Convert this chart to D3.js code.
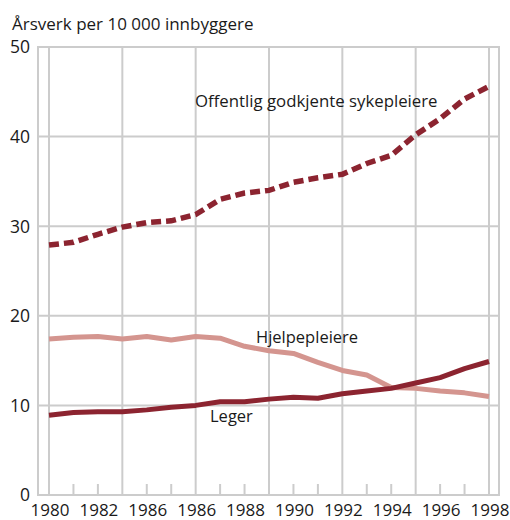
<!DOCTYPE html>
<html>
<head>
<meta charset="utf-8">
<script src="https://cdn.jsdelivr.net/npm/d3@7"></script>
<style>
    body { margin: 0; background: #fff; }
    text { font-family: "Open Sans", "Noto Sans", sans-serif; fill: #1a1a1a; }
</style>
</head>
<body>
<svg id="chart"></svg>
<script>
var width = 510,
    height = 520

// data
var years = [1980, 1981, 1982, 1983, 1984, 1985, 1986, 1987, 1988, 1989,
             1990, 1991, 1992, 1993, 1994, 1995, 1996, 1997, 1998]
var sykepleiere = [27.9, 28.2, 29.1, 29.9, 30.4, 30.6, 31.3, 33.0, 33.7, 34.0,
                   34.9, 35.4, 35.8, 37.0, 37.9, 40.2, 42.0, 44.2, 45.6]
var hjelpepleiere = [17.4, 17.6, 17.7, 17.4, 17.7, 17.3, 17.7, 17.5, 16.6, 16.1,
                     15.8, 14.8, 13.9, 13.4, 12.0, 11.9, 11.6, 11.4, 11.0]
var leger = [8.9, 9.2, 9.3, 9.3, 9.5, 9.8, 10.0, 10.4, 10.4, 10.7,
             10.9, 10.8, 11.3, 11.6, 11.9, 12.5, 13.1, 14.1, 14.9]
var yTicks = [0, 10, 20, 30, 40, 50]
var gridYears = [1980, 1983, 1986, 1989, 1992, 1995, 1998]
var labelYears = [1980, 1982, 1984, 1986, 1988, 1990, 1992, 1994, 1996, 1998]
// the source prints 1986 twice, kept as it is
var xLabels = ["1980", "1982", "1986", "1986", "1988", "1990", "1992", "1994", "1996", "1998"]

var darkRed = "#8c2430",
    pink = "#d4958f",
    grid = "#cccccc"

var svg = d3.select("svg#chart")
    .attr("width", width)
    .attr("height", height)

var x = d3.scaleLinear().domain([1980, 1998]).range([49, 489])
var y = d3.scaleLinear().domain([0, 50]).range([495, 47])

// grid
svg.append("g").selectAll("line")
    .data(yTicks)
    .enter().append("line")
    .attr("x1", 38).attr("x2", 499)
    .attr("y1", function(d){ return y(d) })
    .attr("y2", function(d){ return y(d) })
    .attr("stroke", grid).attr("stroke-width", 2)

svg.append("g").selectAll("line")
    .data(gridYears)
    .enter().append("line")
    .attr("x1", function(d){ return x(d) })
    .attr("x2", function(d){ return x(d) })
    .attr("y1", y(50)).attr("y2", y(0))
    .attr("stroke", grid).attr("stroke-width", 2)

// small ticks for the other years
svg.append("g").selectAll("line")
    .data(years.filter(function(d){ return gridYears.indexOf(d) < 0 }))
    .enter().append("line")
    .attr("x1", function(d){ return x(d) })
    .attr("x2", function(d){ return x(d) })
    .attr("y1", y(0) - 11).attr("y2", y(0))
    .attr("stroke", grid).attr("stroke-width", 2)

// frame
svg.append("rect")
    .attr("x", 38).attr("y", y(50))
    .attr("width", 499 - 38).attr("height", y(0) - y(50))
    .attr("fill", "none")
    .attr("stroke", grid).attr("stroke-width", 2)

// axis labels
svg.append("g").selectAll("text")
    .data(yTicks)
    .enter().append("text")
    .attr("x", 30)
    .attr("y", function(d){ return y(d) })
    .attr("dy", "0.36em")
    .attr("text-anchor", "end")
    .style("font-size", "17.5px")
    .text(function(d){ return d })

svg.append("g").selectAll("text")
    .data(labelYears)
    .enter().append("text")
    .attr("x", function(d){ return x(d) + 1 })
    .attr("y", 516)
    .attr("text-anchor", "middle")
    .style("font-size", "17px")
    .text(function(d, i){ return xLabels[i] })

svg.append("text")
    .attr("x", 12)
    .attr("y", 30)
    .style("font-size", "17px")
    .text("Årsverk per 10 000 innbyggere")

// lines
var line = d3.line()
    .x(function(d, i){ return x(years[i]) })
    .y(function(d){ return y(d) })

svg.append("path")
    .datum(hjelpepleiere)
    .attr("d", line)
    .attr("fill", "none")
    .attr("stroke", pink)
    .attr("stroke-width", 5)
    .attr("stroke-linejoin", "round")

svg.append("path")
    .datum(leger)
    .attr("d", line)
    .attr("fill", "none")
    .attr("stroke", darkRed)
    .attr("stroke-width", 5)
    .attr("stroke-linejoin", "round")

svg.append("path")
    .datum(sykepleiere)
    .attr("d", line)
    .attr("fill", "none")
    .attr("stroke", darkRed)
    .attr("stroke-width", 5.5)
    .attr("stroke-dasharray", "10,5")

// series labels
svg.append("text")
    .attr("x", 195).attr("y", 107)
    .style("font-size", "16.8px")
    .text("Offentlig godkjente sykepleiere")

svg.append("text")
    .attr("x", 256).attr("y", 343)
    .style("font-size", "16.5px")
    .text("Hjelpepleiere")

svg.append("text")
    .attr("x", 210).attr("y", 422)
    .style("font-size", "16.5px")
    .text("Leger")
</script>
</body>
</html>
